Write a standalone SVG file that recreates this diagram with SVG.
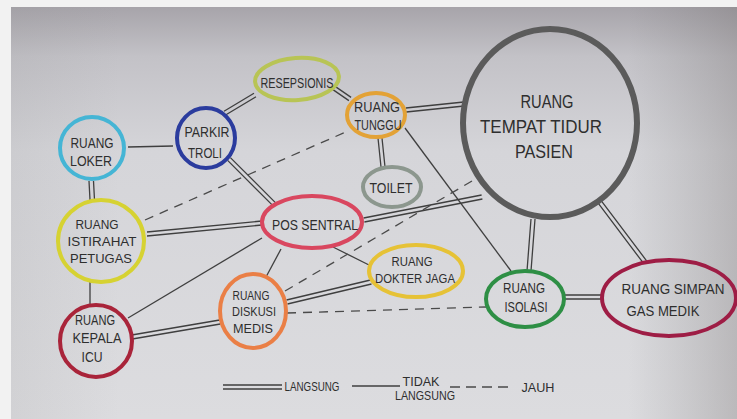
<svg xmlns="http://www.w3.org/2000/svg" width="737" height="419" viewBox="0 0 737 419">
<defs>
<linearGradient id="paper" x1="0" y1="0" x2="0" y2="1">
<stop offset="0" stop-color="#a7a4aa"/>
<stop offset="0.12" stop-color="#c3c2c7"/>
<stop offset="0.35" stop-color="#d5d5d9"/>
<stop offset="1" stop-color="#dcdcdf"/>
</linearGradient>
<linearGradient id="side" x1="0" y1="0" x2="1" y2="0">
<stop offset="0" stop-color="#888" stop-opacity="0.12"/>
<stop offset="0.15" stop-color="#888" stop-opacity="0"/>
<stop offset="0.85" stop-color="#777" stop-opacity="0"/>
<stop offset="1" stop-color="#6e6868" stop-opacity="0.3"/>
</linearGradient>
<style>
.node{fill:none;stroke-width:4}
.big{fill:none;stroke:#5b5b5b;stroke-width:6}
.ln{fill:none;stroke:#3f3f3f;stroke-width:1.3}
.dash{fill:none;stroke:#4a4a4a;stroke-width:1.3;stroke-dasharray:9 7}
text{font-family:"Liberation Sans",Arial,sans-serif;fill:#2e2e2e;font-size:14px;text-anchor:middle}
.sm{font-size:12.5px}
.lg{font-size:12px}
.bt{font-size:18px}
</style>
</defs>
<rect x="0" y="0" width="737" height="419" fill="#f2f2f2"/>
<rect x="11" y="7" width="726" height="412" fill="url(#paper)"/>
<rect x="11" y="7" width="726" height="412" fill="url(#side)"/>

<g id="connectors">
<!-- langsung (double) -->
<path class="ln" d="M224,111.3 L254,93.3 M226,114.7 L256,96.7"/>
<path class="ln" d="M335.1,86.4 L351.1,97.4 M332.9,89.6 L348.9,100.6"/>
<path class="ln" d="M405.8,108 L463.8,102 M406.2,112 L464.2,106"/>
<path class="ln" d="M378,138 L381,167 M382,138 L385,167"/>
<path class="ln" d="M227.6,160.4 L272.6,205.4 M230.4,157.6 L275.4,202.6"/>
<path class="ln" d="M89,181 L90,200 M93.5,181 L94.5,200"/>
<path class="ln" d="M147,232 L262,221 M147,236 L262,225"/>
<path class="ln" d="M363.6,218 L481.6,195 M364.4,222 L482.4,199"/>
<path class="ln" d="M131.7,335 L219.7,320 M132.3,339 L220.3,324"/>
<path class="ln" d="M286.5,300 L370.5,280 M287.5,304 L371.5,284"/>
<path class="ln" d="M531,219 L527,271 M535,219 L531,271"/>
<path class="ln" d="M597.4,202.2 L643.4,263.2 M600.6,199.8 L646.6,260.8"/>
<path class="ln" d="M565,295 L601,295 M565,299 L601,299"/>
<!-- tidak langsung (single) -->
<path class="ln" d="M128,147 L173,146"/>
<path class="ln" d="M90,282 L90,305"/>
<path class="ln" d="M128,318 L262,238"/>
<path class="ln" d="M281,249 L266,277"/>
<path class="ln" d="M333,247 L369,265"/>
<path class="ln" d="M405,128 L511,271"/>
<!-- jauh (dashed) -->
<path class="dash" d="M145,220 L348,131"/>
<path class="dash" d="M285,291 L472,181"/>
<path class="dash" d="M287,313 L486,307"/>
</g>

<g id="resepsionis">
<ellipse class="node" cx="297" cy="79" rx="42" ry="21" stroke="#b8c455" transform="rotate(-4 297 79)"/>
<text x="297" y="88" textLength="73" lengthAdjust="spacingAndGlyphs">RESEPSIONIS</text>
</g>
<g id="parkir-troli">
<ellipse class="node" cx="206" cy="138" rx="29" ry="30" stroke="#2b3c9e"/>
<text x="207" y="137" textLength="45" lengthAdjust="spacingAndGlyphs">PARKIR</text>
<text x="205" y="158" textLength="34" lengthAdjust="spacingAndGlyphs">TROLI</text>
</g>
<g id="ruang-loker">
<ellipse class="node" cx="92" cy="148" rx="32" ry="31" stroke="#45b5d5"/>
<text x="92" y="148" textLength="43" lengthAdjust="spacingAndGlyphs">RUANG</text>
<text x="91" y="166" textLength="42" lengthAdjust="spacingAndGlyphs">LOKER</text>
</g>
<g id="ruang-tunggu">
<ellipse class="node" cx="376" cy="115" rx="29" ry="22" stroke="#e3a236"/>
<text x="377" y="112" textLength="46" lengthAdjust="spacingAndGlyphs">RUANG</text>
<text x="378" y="130" textLength="47" lengthAdjust="spacingAndGlyphs">TUNGGU</text>
</g>
<g id="ruang-tempat-tidur-pasien">
<ellipse class="big" cx="550" cy="123" rx="87" ry="94"/>
<text class="bt" x="547" y="108" textLength="53" lengthAdjust="spacingAndGlyphs">RUANG</text>
<text class="bt" x="541" y="133" textLength="122" lengthAdjust="spacingAndGlyphs">TEMPAT TIDUR</text>
<text class="bt" x="544" y="158" textLength="58" lengthAdjust="spacingAndGlyphs">PASIEN</text>
</g>
<g id="toilet">
<ellipse class="node" cx="392" cy="187" rx="29" ry="20" stroke="#8c978e"/>
<text x="391" y="193" textLength="43" lengthAdjust="spacingAndGlyphs">TOILET</text>
</g>
<g id="pos-sentral">
<ellipse class="node" cx="312" cy="222" rx="50" ry="26" stroke="#d9475f"/>
<text x="315" y="230" textLength="86" lengthAdjust="spacingAndGlyphs">POS SENTRAL</text>
</g>
<g id="ruang-dokter-jaga">
<ellipse class="node" cx="416" cy="271" rx="47" ry="26" stroke="#e6c236"/>
<text class="sm" x="412" y="266" textLength="41" lengthAdjust="spacingAndGlyphs">RUANG</text>
<text class="sm" x="415" y="283" textLength="80" lengthAdjust="spacingAndGlyphs">DOKTER JAGA</text>
</g>
<g id="ruang-istirahat-petugas">
<ellipse class="node" cx="101" cy="241" rx="43" ry="41" stroke="#d6d232"/>
<text class="sm" x="97" y="229" textLength="43" lengthAdjust="spacingAndGlyphs">RUANG</text>
<text class="sm" x="102" y="246" textLength="69" lengthAdjust="spacingAndGlyphs">ISTIRAHAT</text>
<text class="sm" x="101" y="263" textLength="62" lengthAdjust="spacingAndGlyphs">PETUGAS</text>
</g>
<g id="ruang-kepala-icu">
<ellipse class="node" cx="96" cy="341" rx="36" ry="36" stroke="#a9243a"/>
<text x="95" y="325" textLength="40" lengthAdjust="spacingAndGlyphs">RUANG</text>
<text x="97" y="343" textLength="49" lengthAdjust="spacingAndGlyphs">KEPALA</text>
<text x="92" y="362" textLength="21" lengthAdjust="spacingAndGlyphs">ICU</text>
</g>
<g id="ruang-diskusi-medis">
<ellipse class="node" cx="253" cy="311" rx="33" ry="37" stroke="#ea7f46"/>
<text class="sm" x="251" y="300" textLength="37" lengthAdjust="spacingAndGlyphs">RUANG</text>
<text class="sm" x="254" y="316" textLength="44" lengthAdjust="spacingAndGlyphs">DISKUSI</text>
<text class="sm" x="253" y="333" textLength="40" lengthAdjust="spacingAndGlyphs">MEDIS</text>
</g>
<g id="ruang-isolasi">
<ellipse class="node" cx="525" cy="299" rx="39" ry="28" stroke="#2e8f45"/>
<text x="524" y="293" textLength="42" lengthAdjust="spacingAndGlyphs">RUANG</text>
<text x="526" y="312" textLength="43" lengthAdjust="spacingAndGlyphs">ISOLASI</text>
</g>
<g id="ruang-simpan-gas-medik">
<ellipse class="node" cx="669" cy="298" rx="67" ry="38" stroke="#9e1d45"/>
<text x="673" y="294" textLength="103" lengthAdjust="spacingAndGlyphs">RUANG SIMPAN</text>
<text x="663" y="316" textLength="73" lengthAdjust="spacingAndGlyphs">GAS MEDIK</text>
</g>

<g id="legend">
<path class="ln" d="M223,385 L282,385 M223,389 L282,389"/>
<text class="lg" x="312" y="391" textLength="55" lengthAdjust="spacingAndGlyphs">LANGSUNG</text>
<path class="ln" d="M352,386 L400,386"/>
<text class="lg" x="421" y="386" textLength="37" lengthAdjust="spacingAndGlyphs">TIDAK</text>
<text class="lg" x="425" y="400" textLength="60" lengthAdjust="spacingAndGlyphs">LANGSUNG</text>
<path class="dash" d="M450,387 L513,387" style="stroke-dasharray:10 6"/>
<text class="lg" x="538" y="392" textLength="33" lengthAdjust="spacingAndGlyphs">JAUH</text>
</g>
</svg>
